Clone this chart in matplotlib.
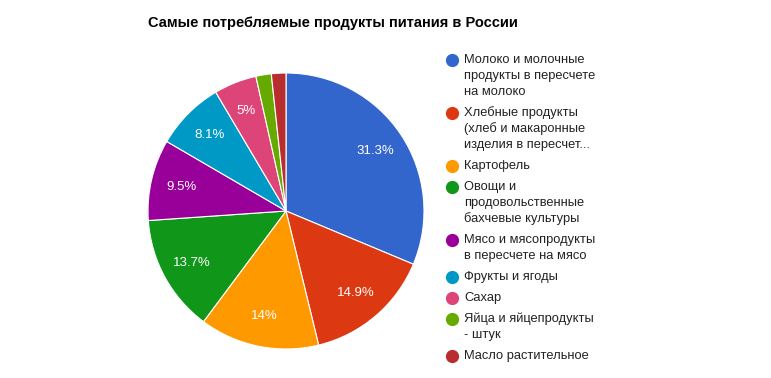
import matplotlib
matplotlib.use("Agg")
import matplotlib.pyplot as plt
from matplotlib.lines import Line2D

title = "Самые потребляемые продукты питания в России"
categories = [
    "Молоко и молочные\nпродукты в пересчете\nна молоко",
    "Хлебные продукты\n(хлеб и макаронные\nизделия в пересчет...",
    "Картофель",
    "Овощи и\nпродовольственные\nбахчевые культуры",
    "Мясо и мясопродукты\nв пересчете на мясо",
    "Фрукты и ягоды",
    "Сахар",
    "Яйца и яйцепродукты\n- штук",
    "Масло растительное",
]
values = [31.3, 14.9, 14.0, 13.7, 9.5, 8.1, 5.0, 1.8, 1.7]
colors = ["#3366cc", "#dc3912", "#ff9900", "#109618", "#990099",
          "#0099c6", "#dd4477", "#66aa00", "#b82e2e"]

W, H = 771, 378
fig = plt.figure(figsize=(W / 100, H / 100), dpi=100)
plt.rcParams['font.family'] = ['Liberation Sans', 'DejaVu Sans']

cx, cy, r = 286, 211, 138
ax = fig.add_axes([(cx - r) / W, (H - cy - r) / H, 2 * r / W, 2 * r / H])


def fmt(p):
    if p < 3:
        return ""
    s = f"{p:.1f}".rstrip("0").rstrip(".")
    return s + "%"


wedges, texts, autotexts = ax.pie(
    values, colors=colors, startangle=90, counterclock=False,
    autopct=fmt, pctdistance=0.78, radius=1,
    wedgeprops=dict(edgecolor="white", linewidth=0.8),
    textprops=dict(color="white", fontsize=9.5),
)
ax.set_xlim(-1, 1)
ax.set_ylim(-1, 1)
ax.set_aspect("equal")
ax.axis("off")

fig.text(148 / W, 1 - 23 / H, title, fontsize=10.5, fontweight="bold",
         ha="left", va="center", color="#000000")

# legend
y = 60
line_h = 16
gap = 21
for lab, col in zip(categories, colors):
    lines = lab.split("\n")
    fig.add_artist(Line2D([452 / W], [1 - y / H], marker="o", markersize=8.5,
                          color=col, transform=fig.transFigure, linestyle="none"))
    for i, ln in enumerate(lines):
        fig.text(464 / W, 1 - (y + i * line_h) / H, ln, fontsize=9.3,
                 ha="left", va="center", color="#222222")
    y += (len(lines) - 1) * line_h + gap

fig.savefig("out.png", dpi=100, facecolor="white")
